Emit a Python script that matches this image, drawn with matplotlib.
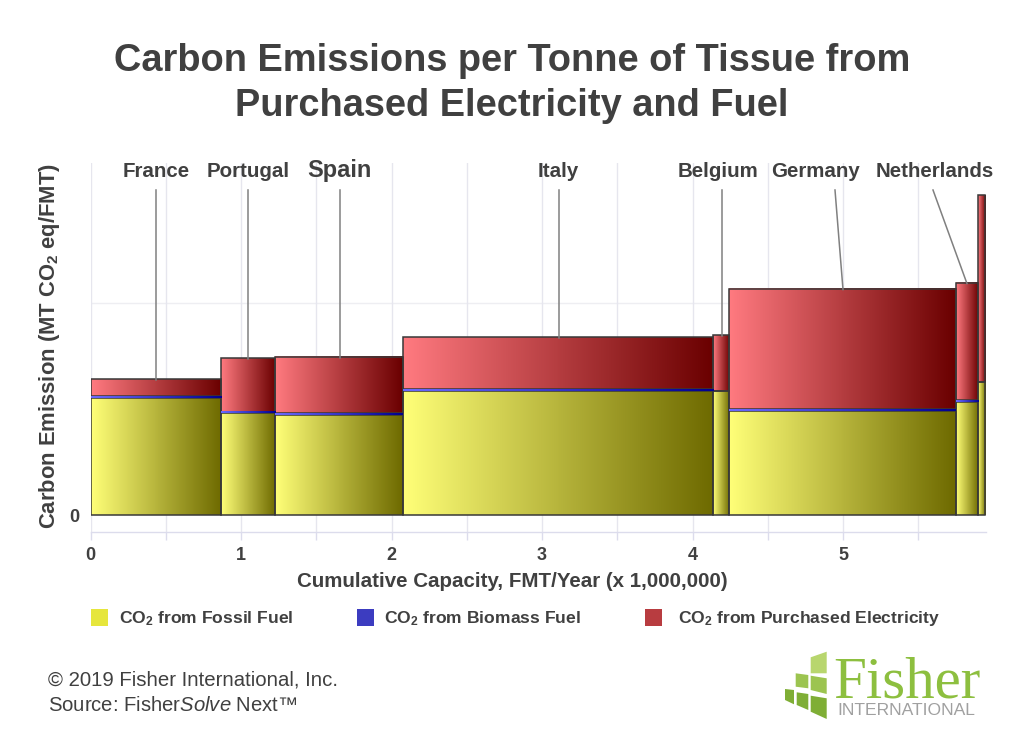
import numpy as np
import matplotlib
matplotlib.use("Agg")
import matplotlib.pyplot as plt
from matplotlib.colors import LinearSegmentedColormap
from matplotlib.patches import Rectangle, Polygon

plt.rcParams['font.family'] = ['Liberation Sans', 'DejaVu Sans']
plt.rcParams['mathtext.fontset'] = 'custom'
plt.rcParams['mathtext.rm'] = 'Liberation Sans'
plt.rcParams['mathtext.bf'] = 'Liberation Sans:bold'
plt.rcParams['mathtext.it'] = 'Liberation Sans:italic'

countries = ["France", "Portugal", "Spain", "Italy", "Belgium", "Germany", "Netherlands", "Other"]
capacity = [0.868, 0.361, 0.846, 2.062, 0.108, 1.504, 0.149, 0.047]
fossil = [0.553, 0.479, 0.470, 0.587, 0.586, 0.491, 0.533, 0.629]
biomass = [0.0085, 0.0085, 0.0094, 0.0085, 0.0, 0.008, 0.008, 0.0]
electricity = [0.079, 0.253, 0.267, 0.242, 0.264, 0.569, 0.555, 0.882]
legend_labels = ["CO$_2$ from Fossil Fuel", "CO$_2$ from Biomass Fuel", "CO$_2$ from Purchased Electricity"]
legend_colors = ["#E6E63C", "#3C3CC0", "#B83C40"]

W, H = 1024, 739
TXT = "#404040"
fig = plt.figure(figsize=(W / 100, H / 100), dpi=100)
def fx(p): return p / W
def fy(p): return 1 - p / H

ax = fig.add_axes([fx(90.5), fy(532), (985.7 - 90.5) / W, (532 - 163) / H])
XMAX = 5.948
YLIM = (-17 / 212, 352 / 212)
for s in ("top", "right", "left"):
    ax.spines[s].set_visible(False)
ax.spines["bottom"].set_color("#DCDCEC")
ax.spines["bottom"].set_linewidth(1)
ax.set_xticks([0, 1, 2, 3, 4, 5])
ax.set_xticks(np.arange(0.5, 5.6, 1), minor=True)
ax.tick_params(axis='x', which='both', length=6, color="#DCDCEC", width=1, labelsize=13, labelcolor=TXT, pad=5)
for t in ax.get_xticklabels():
    t.set_fontweight("bold")
ax.set_yticks([0, 1])
ax.set_yticklabels(["0", ""], fontsize=13, fontweight="bold", color=TXT)
ax.tick_params(axis='y', length=0, pad=8)
ax.set_axisbelow(True)
ax.grid(True, which='both', axis='x', color="#E6E6EE", lw=1)
ax.plot([0, XMAX], [1, 1], color="#EEEEF2", lw=1, zorder=0.5)

cm_fossil = LinearSegmentedColormap.from_list("f", ["#FFFF78", "#6E6A00"])
cm_elec = LinearSegmentedColormap.from_list("e", ["#FF7A80", "#6A0000"])
cm_bio = LinearSegmentedColormap.from_list("b", ["#6A6AFF", "#000090"])
grad = np.linspace(0, 1, 128).reshape(1, -1)

def bar(x0, w, y0, h, cmap):
    if h <= 0:
        return
    ax.add_patch(Rectangle((x0, y0), w, h, facecolor="none", edgecolor="#383838", lw=1.1, zorder=3))
    ax.imshow(grad, extent=(x0, x0 + w, y0, y0 + h), aspect='auto', cmap=cmap, zorder=2.5, interpolation='bilinear')

left = 0.0
for w, f, b, e in zip(capacity, fossil, biomass, electricity):
    bar(left, w, 0, f, cm_fossil)
    bar(left, w, f + b, e, cm_elec)
    if b > 0:
        ax.imshow(grad, extent=(left, left + w, f, f + b), aspect='auto', cmap=cm_bio, zorder=3.5)
    left += w
ax.set_xlim(0, XMAX)
ax.set_ylim(*YLIM)

# country callouts
label_px = [156, 248, 339.5, 558.5, 718, 815, 934.5]
leader_start = [156, 248, 339.5, 558.5, 722, 835, 933]
leader_end = [156, 248, 339.5, 558.5, 722, 843, 967]
sizes = [14.8, 14.8, 17, 14.8, 14.8, 14.8, 14.8]
for i in range(7):
    fig.text(fx(label_px[i]), fy(177), countries[i], ha='center', va='baseline', fontsize=sizes[i],
             fontweight='bold', color=TXT)
    top = fossil[i] + biomass[i] + electricity[i]
    fig.add_artist(plt.Line2D([fx(leader_start[i]), fx(leader_end[i])], [fy(190), fy(515 - top * 212 + 1)],
                              color="#808080", lw=1.1, zorder=5))

fig.text(fx(512), fy(71), "Carbon Emissions per Tonne of Tissue from", ha='center', va='baseline',
         fontsize=27.4, fontweight='bold', color=TXT)
fig.text(fx(512), fy(116), "Purchased Electricity and Fuel", ha='center', va='baseline',
         fontsize=27.4, fontweight='bold', color=TXT)

fig.text(fx(512), fy(581.5), "Cumulative Capacity, FMT/Year (x 1,000,000)", ha='center', va='center',
         fontsize=14.8, fontweight='bold', color=TXT)
fig.text(fx(49.5), fy(346), r"Carbon Emission (MT CO$_{\mathbf{2}}$ eq/FMT)", rotation=90, ha='center', va='center',
         fontsize=15.8, fontweight='bold', color=TXT)

# legend
leg_sq = [91, 357, 645]
leg_tx = [119, 384, 678]
for x, c, l, tx in zip(leg_sq, legend_colors, legend_labels, leg_tx):
    fig.add_artist(Rectangle((fx(x), fy(626)), 17 / W, 17 / H, transform=fig.transFigure, facecolor=c, edgecolor='none'))
    fig.text(fx(tx), fy(618.5), l.replace("$_2$", r"$_{\mathbf{2}}$"), ha='left', va='center', fontsize=12.6,
             fontweight='bold', color=TXT)

# footer
fig.text(fx(48), fy(680.5), "© 2019 Fisher International, Inc.", ha='left', va='center', fontsize=14.7, color=TXT)
fig.text(fx(48), fy(705.5), r"Source: Fisher$\mathit{Solve}$ Next™", ha='left', va='center', fontsize=14.6, color=TXT)

# logo
TOP, MID, LOW = "#B8D66E", "#9CC450", "#7FAE35"
logo = [
    ([(810.7, 657.3), (826.7, 651.7), (826.7, 673.3), (810.7, 673.3)], TOP),
    ([(795.7, 673.3), (808.3, 675), (808.3, 688.3), (795.7, 686.7)], MID),
    ([(810.7, 675.7), (826.7, 678.3), (826.7, 694), (810.7, 690)], MID),
    ([(785, 689), (794, 690), (794, 704.3), (785, 700)], LOW),
    ([(796.7, 692.3), (808.3, 694), (808.3, 710), (796.7, 705)], LOW),
    ([(810.7, 695.7), (826.7, 698.3), (826.7, 719), (810.7, 711.7)], LOW),
]
for pts, c in logo:
    fig.add_artist(Polygon([(fx(a), fy(b)) for a, b in pts], closed=True, transform=fig.transFigure,
                           facecolor=c, edgecolor='none'))
fig.text(fx(833), fy(697), "Fisher", ha='left', va='baseline', fontsize=42.5, family='Liberation Serif', color="#8DBF3F")
fig.text(fx(837), fy(715), "INTERNATIONAL", ha='left', va='baseline', fontsize=12.6, color="#A0A0A0")

fig.savefig("out.png", dpi=100)
